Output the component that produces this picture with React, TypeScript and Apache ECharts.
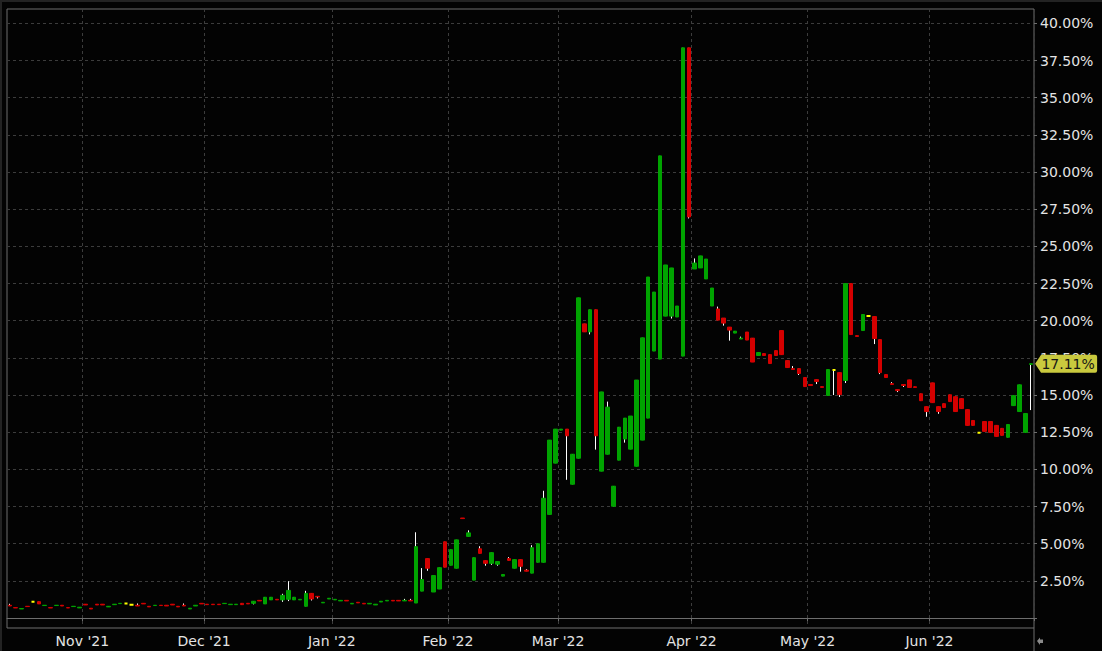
import React, { useEffect, useRef } from 'react';
import * as echarts from 'echarts';

// Trading sessions, one list of day-of-month numbers per calendar month
const oct21Days = [13, 14, 15, 18, 19, 20, 21, 22, 25, 26, 27, 28, 29];
const nov21Days = [1, 2, 3, 4, 5, 8, 9, 10, 11, 12, 15, 16, 17, 18, 19, 22, 23, 24, 26, 29, 30];
const dec21Days = [1, 2, 3, 6, 7, 8, 9, 10, 13, 14, 15, 16, 17, 20, 21, 22, 23, 27, 28, 29, 30, 31];
const jan22Days = [3, 4, 5, 6, 7, 10, 11, 12, 13, 14, 18, 19, 20, 21, 24, 25, 26, 27, 28, 31];
const feb22Days = [1, 2, 3, 4, 7, 8, 9, 10, 11, 14, 15, 16, 17, 18, 22, 23, 24, 25, 28];
const mar22Days = [1, 2, 3, 4, 7, 8, 9, 10, 11, 14, 15, 16, 17, 18, 21, 22, 23, 24, 25, 28, 29, 30, 31];
const apr22Days = [1, 4, 5, 6, 7, 8, 11, 12, 13, 14, 18, 19, 20, 21, 22, 25, 26, 27, 28, 29];
const may22Days = [2, 3, 4, 5, 6, 9, 10, 11, 12, 13, 16, 17, 18, 19, 20, 23, 24, 25, 26, 27, 31];
const jun22Days = [1, 2, 3, 6, 7, 8, 9, 10, 13, 14, 15, 16, 17, 21, 22, 23, 24, 27];

// Implied volatility bars, [open, close, low, high] in percent
const oct21Bars = [
  [0.86, 0.81, 0.81, 0.96], [0.70, 0.68, 0.68, 0.70], [0.61, 0.64, 0.61, 0.64], [0.79, 0.77, 0.77, 0.79],
  [1.09, 1.09, 1.09, 1.09], [1.10, 0.95, 0.95, 1.10], [0.84, 0.86, 0.84, 0.86], [0.70, 0.68, 0.68, 0.70],
  [0.84, 0.86, 0.84, 0.86], [0.86, 0.81, 0.81, 0.86], [0.70, 0.68, 0.68, 0.70], [0.77, 0.79, 0.77, 0.79],
  [0.68, 0.73, 0.68, 0.73],
];
const nov21Bars = [
  [0.93, 0.88, 0.88, 0.93], [0.66, 0.61, 0.61, 0.66], [0.93, 0.88, 0.88, 0.93], [0.93, 0.88, 0.88, 0.93],
  [0.75, 0.79, 0.75, 0.79], [0.90, 0.93, 0.90, 0.93], [0.97, 0.99, 0.97, 0.99], [0.98, 0.98, 0.98, 0.98],
  [0.90, 0.90, 0.90, 0.90], [0.86, 0.81, 0.81, 0.98], [0.99, 0.95, 0.95, 0.99], [0.79, 0.75, 0.75, 0.79],
  [0.84, 0.86, 0.84, 0.86], [0.86, 0.84, 0.84, 0.86], [0.86, 0.81, 0.81, 0.86], [0.93, 0.88, 0.88, 0.93],
  [0.79, 0.75, 0.75, 0.79], [0.86, 0.81, 0.81, 0.98], [0.61, 0.66, 0.61, 0.66], [0.81, 0.86, 0.81, 0.86],
  [0.99, 0.95, 0.95, 0.99],
];
const dec21Bars = [
  [0.93, 0.90, 0.90, 0.93], [0.93, 0.90, 0.90, 0.93], [0.93, 0.90, 0.90, 0.93], [0.97, 0.99, 0.97, 0.99],
  [0.90, 0.93, 0.90, 0.93], [0.90, 0.93, 0.90, 0.93], [0.99, 0.90, 0.90, 0.99], [0.99, 0.95, 0.95, 0.99],
  [0.99, 1.13, 0.92, 1.13], [1.19, 1.15, 1.15, 1.19], [0.95, 1.40, 0.95, 1.40], [1.22, 1.40, 1.22, 1.40],
  [1.26, 1.22, 1.22, 1.26], [1.22, 1.53, 1.09, 1.63], [1.26, 1.86, 1.14, 2.48], [1.22, 1.40, 1.22, 1.40],
  [1.22, 1.26, 1.22, 1.26], [0.79, 1.66, 0.79, 1.83], [1.66, 1.28, 1.18, 1.66], [1.46, 1.42, 1.32, 1.46],
  [1.02, 1.06, 1.02, 1.06], [1.28, 1.33, 1.28, 1.33],
];
const jan22Bars = [
  [1.22, 1.26, 1.22, 1.26], [1.15, 1.19, 1.15, 1.19], [1.19, 1.15, 1.15, 1.19], [0.95, 0.99, 0.95, 0.99],
  [1.06, 1.02, 1.02, 1.06], [0.99, 0.95, 0.95, 0.99], [0.95, 0.99, 0.95, 0.99], [0.88, 0.93, 0.88, 0.93],
  [1.08, 1.13, 1.08, 1.13], [1.15, 1.19, 1.15, 1.19], [1.19, 1.15, 1.15, 1.19], [1.19, 1.15, 1.15, 1.19],
  [1.15, 1.19, 1.15, 1.29], [1.19, 1.15, 1.15, 1.29], [1.01, 4.80, 1.01, 5.77], [1.81, 2.59, 1.81, 3.36],
  [4.00, 3.35, 3.18, 4.00], [1.75, 2.86, 1.75, 2.86], [1.95, 3.39, 1.95, 3.39], [5.13, 3.42, 3.42, 5.13],
];
const feb22Bars = [
  [3.55, 4.60, 3.55, 4.60], [3.35, 5.26, 3.35, 5.26], [6.73, 6.69, 6.69, 6.73], [5.49, 5.73, 5.49, 5.90],
  [2.55, 4.06, 2.55, 4.06], [4.66, 4.35, 4.35, 4.83], [3.86, 3.68, 3.52, 3.86], [3.68, 4.40, 3.58, 4.40],
  [3.62, 3.80, 3.52, 3.80], [2.82, 2.93, 2.82, 2.93], [4.00, 3.88, 3.88, 4.10], [3.35, 3.93, 3.35, 3.93],
  [3.93, 3.48, 3.12, 3.93], [3.22, 3.15, 3.15, 3.29], [3.02, 4.73, 3.02, 4.90], [3.75, 5.00, 3.75, 5.00],
  [3.75, 8.06, 3.75, 8.56], [6.97, 11.97, 6.97, 11.97], [10.42, 12.71, 10.42, 12.71],
];
const mar22Bars = [
  [12.64, 12.71, 12.64, 12.71], [12.71, 12.26, 9.30, 12.71], [9.00, 11.02, 9.00, 11.02], [10.75, 21.54, 10.75, 21.54],
  [19.79, 19.25, 19.25, 19.79], [19.25, 20.74, 19.08, 20.74], [20.74, 12.26, 11.33, 20.74], [9.88, 15.21, 9.88, 15.21],
  [11.02, 14.19, 11.02, 14.56], [7.52, 8.87, 7.52, 8.87], [10.62, 12.84, 10.62, 12.84], [12.04, 13.45, 11.80, 13.45],
  [11.36, 13.59, 11.36, 13.59], [10.21, 16.01, 10.21, 16.01], [11.97, 18.85, 11.97, 18.85], [13.45, 22.94, 13.45, 22.94],
  [17.96, 21.93, 17.96, 21.93], [17.42, 31.09, 17.42, 31.09], [20.31, 23.75, 20.31, 23.75], [20.31, 23.55, 20.15, 23.55],
  [20.25, 20.99, 20.25, 20.99], [17.62, 38.36, 17.62, 38.36], [38.36, 26.98, 26.88, 38.36],
];
const apr22Bars = [
  [23.48, 23.88, 23.48, 24.19], [23.55, 24.36, 23.55, 24.36], [22.81, 24.15, 22.81, 24.15], [20.99, 22.20, 20.99, 22.20],
  [20.79, 20.04, 20.04, 20.95], [20.18, 19.84, 19.67, 20.18], [19.57, 19.37, 18.66, 19.57], [19.17, 19.30, 19.17, 19.30],
  [18.77, 18.83, 18.77, 18.93], [19.24, 18.70, 18.70, 19.24], [18.83, 17.22, 17.22, 18.83], [17.66, 17.86, 17.66, 17.86],
  [17.79, 17.66, 17.66, 17.79], [17.72, 17.12, 17.12, 17.72], [17.99, 17.66, 17.66, 17.99], [19.34, 17.72, 17.72, 19.34],
  [17.32, 16.85, 16.85, 17.32], [16.78, 16.72, 16.72, 16.95], [16.78, 16.45, 16.35, 16.78], [16.18, 15.57, 15.57, 16.18],
];
const may22Bars = [
  [15.71, 15.64, 15.64, 15.71], [16.04, 15.91, 15.74, 16.04], [15.57, 15.51, 15.51, 15.57], [14.97, 16.72, 14.97, 16.72],
  [16.68, 16.68, 15.00, 16.68], [16.51, 15.03, 14.87, 16.51], [15.98, 22.50, 15.81, 22.50], [22.50, 19.07, 19.07, 22.50],
  [19.00, 18.94, 18.94, 19.00], [19.34, 20.42, 19.34, 20.42], [20.31, 20.31, 20.31, 20.31], [20.28, 18.80, 18.43, 20.28],
  [18.73, 16.51, 16.41, 18.73], [16.38, 16.18, 16.18, 16.38], [15.77, 15.71, 15.71, 15.87], [15.37, 15.30, 15.20, 15.37],
  [15.71, 15.64, 15.54, 15.71], [16.02, 15.51, 15.51, 16.02], [15.56, 15.51, 15.51, 15.56], [15.09, 14.62, 14.62, 15.09],
  [14.22, 13.89, 13.54, 14.22],
];
const jun22Bars = [
  [15.82, 14.49, 14.49, 15.82], [14.22, 13.89, 13.74, 14.22], [14.42, 14.16, 14.16, 14.42], [15.02, 14.56, 14.56, 15.02],
  [14.89, 13.89, 13.89, 14.89], [14.76, 14.09, 14.09, 14.76], [14.02, 12.96, 12.96, 14.02], [13.29, 12.96, 12.96, 13.29],
  [12.46, 12.46, 12.46, 12.46], [13.22, 12.56, 12.56, 13.22], [13.22, 12.49, 12.49, 13.22], [12.96, 12.22, 12.22, 12.96],
  [12.76, 12.29, 12.29, 12.76], [12.16, 13.02, 12.16, 13.02], [14.29, 14.96, 14.29, 14.96], [13.89, 15.69, 13.89, 15.69],
  [12.49, 13.76, 12.49, 13.76], [17.06, 17.11, 13.99, 17.11],
];

// Right-hand percent scale
const yTickValues = [0, 2.5, 5, 7.5, 10, 12.5, 15, 17.5, 20, 22.5, 25, 27.5, 30, 32.5, 35, 37.5, 40];
const yLabelValues = [2.5, 5, 7.5, 10, 12.5, 15, 17.5, 20, 22.5, 25, 27.5, 30, 32.5, 35, 37.5, 40];
const monthNames = ['Jan', 'Feb', 'Mar', 'Apr', 'May', 'Jun', 'Jul', 'Aug', 'Sep', 'Oct', 'Nov', 'Dec'];

const sessions: [number, number, number[]][] = [
  [2021, 10, oct21Days], [2021, 11, nov21Days], [2021, 12, dec21Days],
  [2022, 1, jan22Days], [2022, 2, feb22Days], [2022, 3, mar22Days],
  [2022, 4, apr22Days], [2022, 5, may22Days], [2022, 6, jun22Days],
];
const pad = (n: number) => (n < 10 ? '0' + n : '' + n);
const dates: string[] = sessions.flatMap(([y, m, days]) => days.map((d) => `${y}-${pad(m)}-${pad(d)}`));
const bars: number[][] = [
  ...oct21Bars, ...nov21Bars, ...dec21Bars, ...jan22Bars, ...feb22Bars,
  ...mar22Bars, ...apr22Bars, ...may22Bars, ...jun22Bars,
];

const GREEN = '#00a300';
const RED = '#d40000';
const YELLOW = '#ffff00';
const FRAME = '#6e6e6e';
const GRIDLINE = '#3c3c3c';
const TEXT = '#e4e4e4';
const FONT = 'DejaVu Sans';

const isMonthStart = (idx: number) => idx > 0 && dates[idx].slice(0, 7) !== dates[idx - 1].slice(0, 7);
const monthLabel = (value: string) => {
  const [y, m] = value.split('-');
  return `${monthNames[Number(m) - 1]} '${y.slice(2)}`;
};

export default function App() {
  const ref = useRef<HTMLDivElement>(null);

  useEffect(() => {
    if (!ref.current) return;
    const chart = echarts.init(ref.current, undefined, { renderer: 'svg' });

    const lastIdx = bars.length - 1;
    const lastClose = bars[lastIdx][1];

    const bodyData = bars.map(([o, c]) => {
      const item: any = { value: [o, c, Math.min(o, c), Math.max(o, c)] };
      if (o === c) {
        item.itemStyle = {
          color: YELLOW, color0: YELLOW, borderColor: YELLOW, borderColor0: YELLOW,
          borderColorDoji: YELLOW, borderWidth: 2,
        };
      }
      return item;
    });

    chart.setOption({
      animation: false,
      backgroundColor: '#030303',
      grid: {
        left: 7, top: 9, width: 1027, height: 619,
        show: true, borderColor: FRAME, borderWidth: 1, backgroundColor: 'transparent',
      },
      xAxis: {
        type: 'category',
        data: dates,
        boundaryGap: true,
        axisLine: { show: true, lineStyle: { color: FRAME } },
        axisTick: { show: true, interval: isMonthStart, length: 3, lineStyle: { color: FRAME } },
        axisLabel: {
          interval: isMonthStart, formatter: monthLabel, color: TEXT,
          fontFamily: FONT, fontSize: 14, margin: 6, padding: [0, 6, 0, 0],
        },
        splitLine: { show: true, interval: isMonthStart, lineStyle: { color: GRIDLINE, type: [3, 3] } },
      },
      yAxis: {
        type: 'value',
        position: 'right',
        min: -0.67,
        max: 40.97,
        axisLine: { show: false },
        axisTick: { show: true, length: 3, customValues: yTickValues, lineStyle: { color: FRAME } },
        axisLabel: {
          customValues: yLabelValues,
          formatter: (v: number) => v.toFixed(2) + '%',
          color: TEXT, fontFamily: FONT, fontSize: 14, margin: 6,
        },
        splitLine: { show: true, lineStyle: { color: GRIDLINE, type: [3, 3] } },
      },
      series: [
        {
          // high/low wicks
          type: 'candlestick',
          name: 'range',
          data: bars,
          barWidth: 1,
          z: 2,
          silent: true,
          itemStyle: {
            color: '#ffffff', color0: '#ffffff', borderColor: '#ffffff', borderColor0: '#ffffff',
            borderColorDoji: '#ffffff', borderWidth: 1,
          },
        },
        {
          // open/close bodies
          type: 'candlestick',
          name: 'IV',
          data: bodyData,
          barWidth: 4,
          z: 3,
          itemStyle: {
            color: GREEN, color0: RED, borderColor: GREEN, borderColor0: RED,
            borderColorDoji: YELLOW, borderWidth: 1,
          },
          markPoint: {
            silent: true,
            symbol: 'path://M0,9 L6,0 L60,0 Q62,0 62,2 L62,16 Q62,18 60,18 L6,18 Z',
            symbolSize: [62, 18],
            symbolOffset: [35, 0],
            symbolKeepAspect: false,
            itemStyle: { color: '#c9c93e' },
            label: {
              show: true, position: 'inside', formatter: lastClose.toFixed(2) + '%',
              color: '#151515', fontFamily: FONT, fontSize: 14, offset: [2, 0],
            },
            data: [{ coord: [dates[lastIdx], lastClose] }],
          },
        },
      ],
      graphic: [
        { type: 'rect', silent: true, shape: { x: 0, y: 0, width: 1102, height: 2 }, style: { fill: '#232323' } },
        { type: 'rect', silent: true, shape: { x: 0, y: 0, width: 2, height: 651 }, style: { fill: '#232323' } },
        { type: 'line', silent: true, shape: { x1: 1034, y1: 628, x2: 1034, y2: 651 }, style: { stroke: FRAME, lineWidth: 1 } },
        {
          type: 'polygon', silent: true,
          shape: { points: [[1037, 641], [1040, 637.5], [1040, 639.5], [1043, 639.5], [1043, 643], [1040, 643], [1040, 645]] },
          style: { fill: '#8a8a8a' },
        },
      ],
    });

    return () => chart.dispose();
  }, []);

  return (
    <div
      ref={ref}
      style={{ position: 'fixed', left: 0, top: 0, width: 1102, height: 651, background: '#030303' }}
    />
  );
}
